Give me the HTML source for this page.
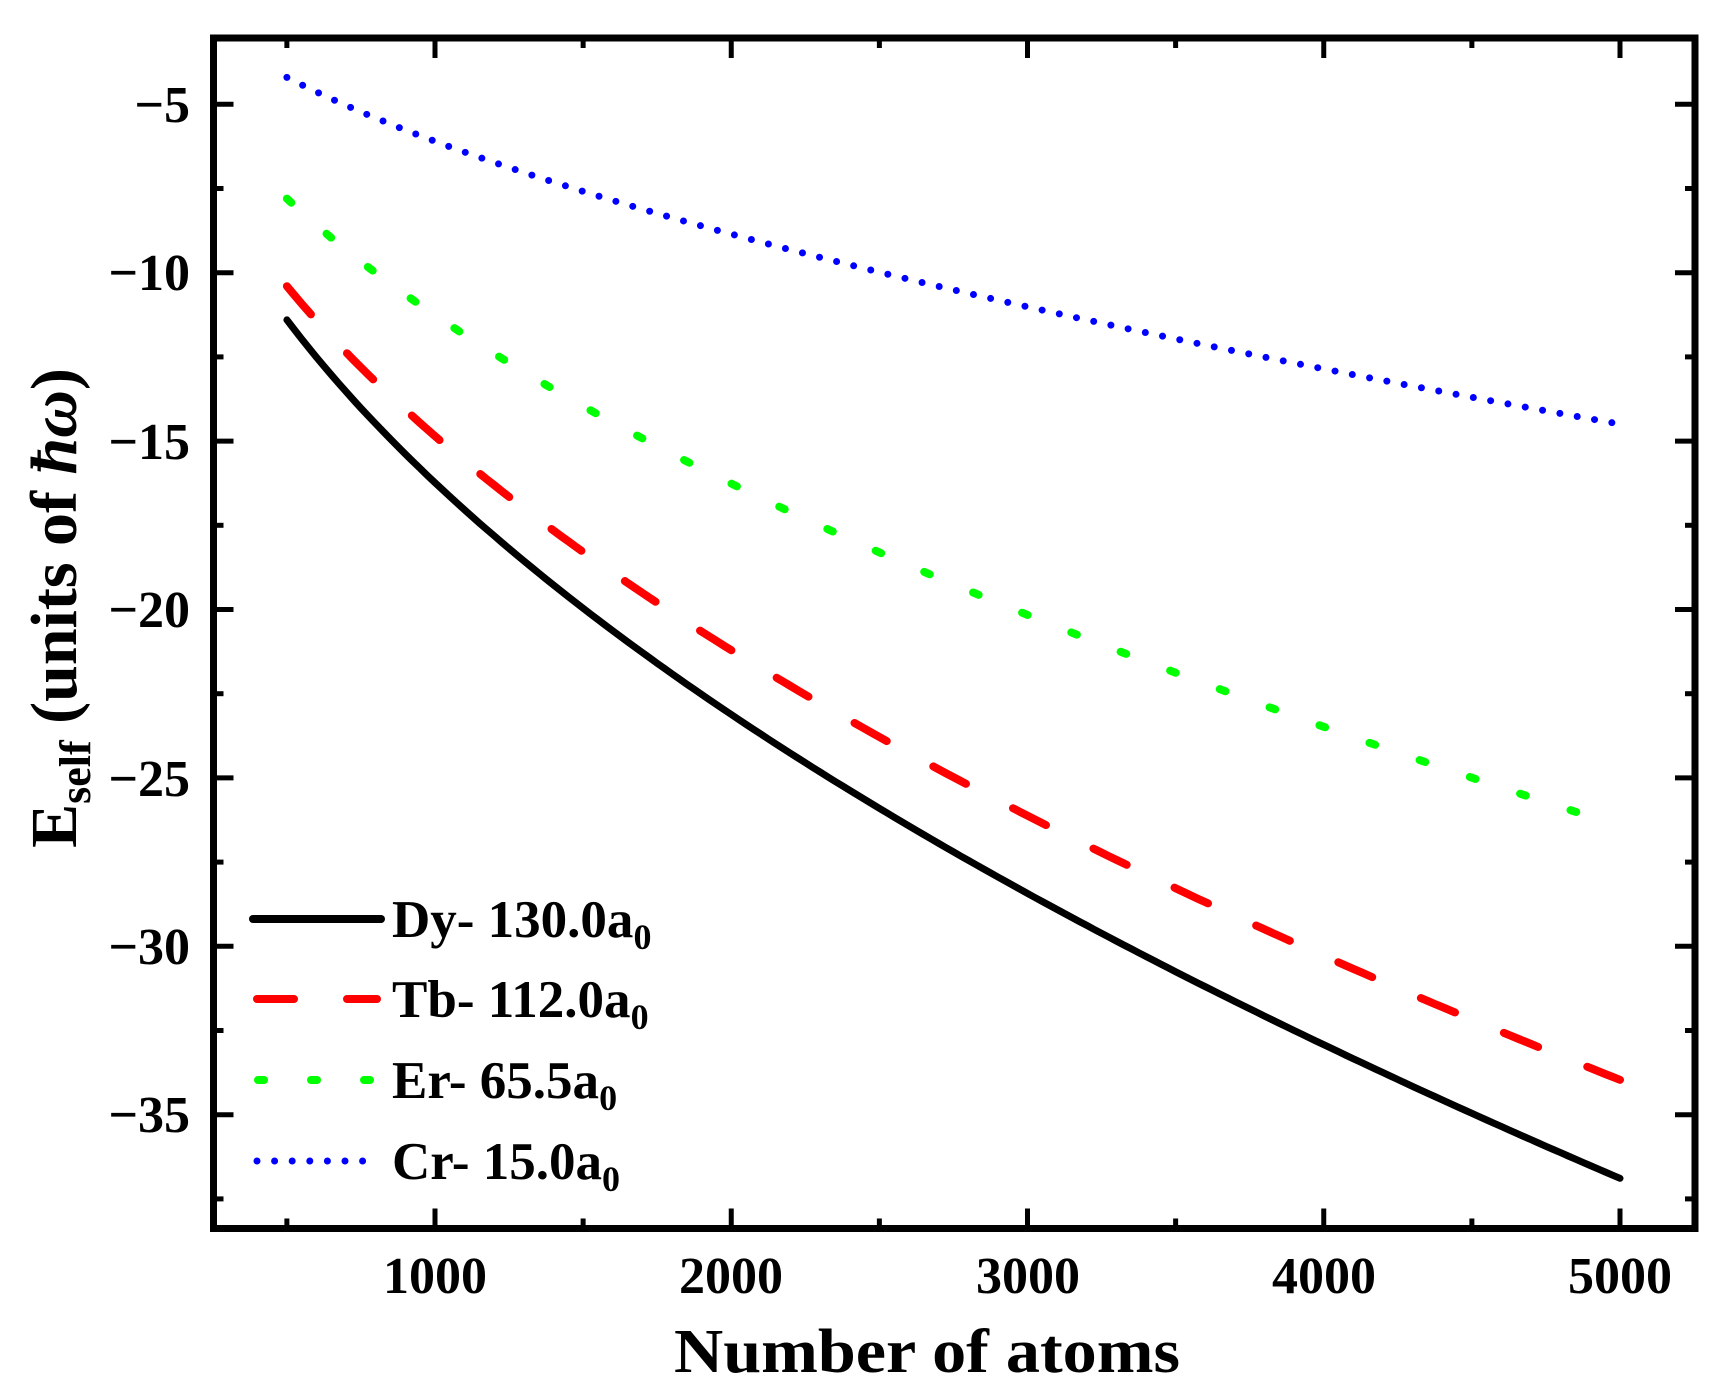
<!DOCTYPE html>
<html><head><meta charset="utf-8"><style>
html,body{margin:0;padding:0;background:#fff;}
svg{display:block;}
text{font-family:"Liberation Serif",serif;font-weight:bold;fill:#000;}
</style></head><body>
<svg id="s" width="1728" height="1398" viewBox="0 0 1728 1398" xmlns="http://www.w3.org/2000/svg">
<g id="ticks" stroke="#000" stroke-width="5"></g>
<g id="curves" fill="none" stroke-linejoin="round"></g>
<rect x="213.5" y="38" width="1481.5" height="1190.5" fill="none" stroke="#000" stroke-width="7"/>
<g font-size="52" text-anchor="middle">
<text x="435" y="1293">1000</text>
<text x="731" y="1293">2000</text>
<text x="1028" y="1293">3000</text>
<text x="1324" y="1293">4000</text>
<text x="1620" y="1293">5000</text>
</g>
<g font-size="52" text-anchor="end">
<text x="190" y="122">−5</text>
<text x="190" y="290">−10</text>
<text x="190" y="459">−15</text>
<text x="190" y="627">−20</text>
<text x="190" y="796">−25</text>
<text x="190" y="964">−30</text>
<text x="190" y="1132">−35</text>
</g>
<text x="927" y="1372" font-size="62" text-anchor="middle" textLength="506" lengthAdjust="spacingAndGlyphs">Number of atoms</text>
<text transform="translate(76,608) rotate(-90)" font-size="66" text-anchor="middle">E<tspan font-size="44" dy="14">self</tspan><tspan dy="-14"> (units of </tspan><tspan font-style="italic">ħω</tspan>)</text>
<g stroke-linecap="round">
<line x1="253" y1="919" x2="381" y2="919" stroke="#000" stroke-width="8"/>
<line x1="257" y1="999" x2="377" y2="999" stroke="#f00" stroke-width="8" stroke-dasharray="37 53" stroke-linecap="round"/>
<line x1="258" y1="1080" x2="380" y2="1080" stroke="#0f0" stroke-width="8" stroke-dasharray="6 47"/>
<line x1="257" y1="1161" x2="365" y2="1161" stroke="#00f" stroke-width="7" stroke-dasharray="0 17.6"/>
</g>
<g font-size="53">
<text x="392" y="937">Dy- 130.0a<tspan font-size="36" dy="12">0</tspan></text>
<text x="392" y="1017">Tb- 112.0a<tspan font-size="36" dy="12">0</tspan></text>
<text x="392" y="1098">Er- 65.5a<tspan font-size="36" dy="12">0</tspan></text>
<text x="392" y="1179">Cr- 15.0a<tspan font-size="36" dy="12">0</tspan></text>
</g>
</svg>
<script>
(function(){
var NS="http://www.w3.org/2000/svg";
function X(v){return 435+(v-1000)*0.29625;}
function Y(v){return 104.3+(-5-v)*33.68;}
var L=213.5,R=1695,T=38,B=1228.5;
var tg=document.getElementById("ticks");
function ln(x1,y1,x2,y2){var l=document.createElementNS(NS,"line");l.setAttribute("x1",x1);l.setAttribute("y1",y1);l.setAttribute("x2",x2);l.setAttribute("y2",y2);tg.appendChild(l);}
for(var v=500;v<=5000;v+=500){var x=X(v),len=(v%1000==0)?20:10;ln(x,B,x,B-len);ln(x,T,x,T+len);}
for(var v=-5;v>=-37.5;v-=2.5){var y=Y(v),len=(v%5==0)?20:10;ln(L,y,L+len,y);ln(R,y,R-len,y);}
var cg=document.getElementById("curves");
var series=[
 {a:-11.4,p:0.51,c:"#000",w:7,d:null,cap:"round"},
 {a:-10.4,p:0.514,c:"#f00",w:8,d:"37 53",cap:"round"},
 {a:-7.8,p:0.53,c:"#0f0",w:8,d:"6 47",cap:"round"},
 {a:-4.2,p:0.538,c:"#00f",w:7,d:"0 17.6",cap:"round"}
];
series.forEach(function(s){
 var pts=[];
 for(var n=500;n<=5000;n+=25){var v=s.a*Math.pow(n/500,s.p);pts.push(X(n).toFixed(1)+","+Y(v).toFixed(1));}
 var pl=document.createElementNS(NS,"polyline");
 pl.setAttribute("points",pts.join(" "));
 pl.setAttribute("stroke",s.c);pl.setAttribute("stroke-width",s.w);
 pl.setAttribute("stroke-linecap",s.cap);
 if(s.d)pl.setAttribute("stroke-dasharray",s.d);
 cg.appendChild(pl);
});
})();
</script>
</body></html>
